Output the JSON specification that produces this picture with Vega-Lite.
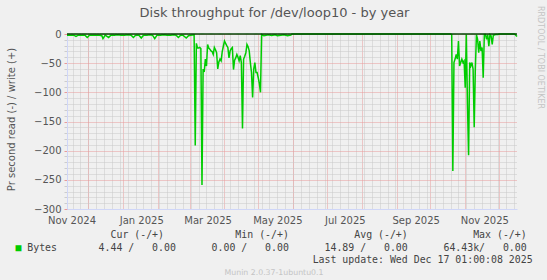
{
  "$schema": "https://vega.github.io/schema/vega-lite/v6.json",
  "background": "#F0F0F0",
  "padding": {"left": 5, "top": 5, "right": 5, "bottom": 5},
  "spacing": 5,
  "config": {"view": {"stroke": null}, "font": "DejaVu Sans"},
  "title": {"text": "Disk throughput for /dev/loop10 - by year", "fontSize": 13, "fontWeight": "normal", "color": "#555555", "anchor": "middle", "frame": "bounds", "offset": -15},
  "datasets": {
    "bytes": [
      {"date": "2024-11-12", "read": -2, "write": 0},
      {"date": "2024-11-15", "read": -2, "write": 0},
      {"date": "2024-11-18", "read": -2, "write": 0},
      {"date": "2024-11-20", "read": -4, "write": 0},
      {"date": "2024-11-22", "read": -2, "write": 0},
      {"date": "2024-11-25", "read": -2, "write": 0},
      {"date": "2024-11-28", "read": -2, "write": 0},
      {"date": "2024-11-30", "read": -6, "write": 0},
      {"date": "2024-12-02", "read": -2, "write": 0},
      {"date": "2024-12-05", "read": -2, "write": 0},
      {"date": "2024-12-08", "read": -2, "write": 0},
      {"date": "2024-12-11", "read": -2, "write": 0},
      {"date": "2024-12-13", "read": -3, "write": 0},
      {"date": "2024-12-14", "read": -8, "write": 0},
      {"date": "2024-12-16", "read": -2, "write": 0},
      {"date": "2024-12-19", "read": -6, "write": 0},
      {"date": "2024-12-21", "read": -2, "write": 0},
      {"date": "2024-12-24", "read": -2, "write": 0},
      {"date": "2024-12-27", "read": -1.5, "write": 0},
      {"date": "2024-12-30", "read": -2, "write": 0},
      {"date": "2025-01-02", "read": -2, "write": 0},
      {"date": "2025-01-05", "read": -1.5, "write": 0},
      {"date": "2025-01-08", "read": -2, "write": 0},
      {"date": "2025-01-10", "read": -6, "write": 0},
      {"date": "2025-01-12", "read": -2, "write": 0},
      {"date": "2025-01-15", "read": -2, "write": 0},
      {"date": "2025-01-17", "read": -7, "write": 0},
      {"date": "2025-01-19", "read": -2, "write": 0},
      {"date": "2025-01-22", "read": -2, "write": 0},
      {"date": "2025-01-25", "read": -1.5, "write": 0},
      {"date": "2025-01-27", "read": -2, "write": 0},
      {"date": "2025-01-29", "read": -8, "write": 0},
      {"date": "2025-01-31", "read": -2, "write": 0},
      {"date": "2025-02-03", "read": -2, "write": 0},
      {"date": "2025-02-06", "read": -1.5, "write": 0},
      {"date": "2025-02-09", "read": -2, "write": 0},
      {"date": "2025-02-12", "read": -2, "write": 0},
      {"date": "2025-02-15", "read": -1.5, "write": 0},
      {"date": "2025-02-17", "read": -2, "write": 0},
      {"date": "2025-02-19", "read": -6, "write": 0},
      {"date": "2025-02-21", "read": -2, "write": 0},
      {"date": "2025-02-23", "read": -2, "write": 0},
      {"date": "2025-02-26", "read": -7, "write": 0},
      {"date": "2025-02-28", "read": -3, "write": 0},
      {"date": "2025-03-02", "read": -2, "write": 0},
      {"date": "2025-03-05", "read": -1.5, "write": 0},
      {"date": "2025-03-06", "read": -191, "write": 0},
      {"date": "2025-03-07", "read": -16, "write": 0},
      {"date": "2025-03-08", "read": -24, "write": 0},
      {"date": "2025-03-09", "read": -24, "write": 0},
      {"date": "2025-03-10", "read": -23, "write": 0},
      {"date": "2025-03-11", "read": -25, "write": 0},
      {"date": "2025-03-12", "read": -259, "write": 0},
      {"date": "2025-03-13", "read": -60, "write": 0},
      {"date": "2025-03-14", "read": -65, "write": 0},
      {"date": "2025-03-15", "read": -43, "write": 0},
      {"date": "2025-03-16", "read": -55, "write": 0},
      {"date": "2025-03-17", "read": -18, "write": 0},
      {"date": "2025-03-18", "read": -24, "write": 0},
      {"date": "2025-03-19", "read": -26, "write": 0},
      {"date": "2025-03-20", "read": -29, "write": 0},
      {"date": "2025-03-21", "read": -30, "write": 0},
      {"date": "2025-03-22", "read": -35, "write": 0},
      {"date": "2025-03-23", "read": -23, "write": 0},
      {"date": "2025-03-24", "read": -27, "write": 0},
      {"date": "2025-03-25", "read": -32, "write": 0},
      {"date": "2025-03-26", "read": -60, "write": 0},
      {"date": "2025-03-27", "read": -48, "write": 0},
      {"date": "2025-03-28", "read": -43, "write": 0},
      {"date": "2025-03-29", "read": -46, "write": 0},
      {"date": "2025-03-30", "read": -30, "write": 0},
      {"date": "2025-03-31", "read": -21, "write": 0},
      {"date": "2025-04-01", "read": -12, "write": 0},
      {"date": "2025-04-02", "read": -16, "write": 0},
      {"date": "2025-04-03", "read": -20, "write": 0},
      {"date": "2025-04-04", "read": -23, "write": 0},
      {"date": "2025-04-05", "read": -41, "write": 0},
      {"date": "2025-04-06", "read": -29, "write": 0},
      {"date": "2025-04-07", "read": -25, "write": 0},
      {"date": "2025-04-08", "read": -23, "write": 0},
      {"date": "2025-04-09", "read": -61, "write": 0},
      {"date": "2025-04-10", "read": -45, "write": 0},
      {"date": "2025-04-11", "read": -41, "write": 0},
      {"date": "2025-04-12", "read": -35, "write": 0},
      {"date": "2025-04-13", "read": -40, "write": 0},
      {"date": "2025-04-14", "read": -46, "write": 0},
      {"date": "2025-04-15", "read": -37, "write": 0},
      {"date": "2025-04-16", "read": -49, "write": 0},
      {"date": "2025-04-17", "read": -162, "write": 0},
      {"date": "2025-04-18", "read": -43, "write": 0},
      {"date": "2025-04-19", "read": -38, "write": 0},
      {"date": "2025-04-20", "read": -32, "write": 0},
      {"date": "2025-04-21", "read": -18, "write": 0},
      {"date": "2025-04-22", "read": -22, "write": 0},
      {"date": "2025-04-23", "read": -29, "write": 0},
      {"date": "2025-04-24", "read": -49, "write": 0},
      {"date": "2025-04-25", "read": -66, "write": 0},
      {"date": "2025-04-26", "read": -109, "write": 0},
      {"date": "2025-04-27", "read": -60, "write": 0},
      {"date": "2025-04-28", "read": -49, "write": 0},
      {"date": "2025-04-29", "read": -66, "write": 0},
      {"date": "2025-04-30", "read": -66, "write": 0},
      {"date": "2025-05-01", "read": -75, "write": 0},
      {"date": "2025-05-02", "read": -85, "write": 0},
      {"date": "2025-05-03", "read": -100, "write": 0},
      {"date": "2025-05-04", "read": -1, "write": 0},
      {"date": "2025-05-06", "read": -3, "write": 0},
      {"date": "2025-05-08", "read": -2, "write": 0},
      {"date": "2025-05-10", "read": -1.5, "write": 0},
      {"date": "2025-05-13", "read": -2.5, "write": 0},
      {"date": "2025-05-16", "read": -1.5, "write": 0},
      {"date": "2025-05-18", "read": -3, "write": 0},
      {"date": "2025-05-21", "read": -2, "write": 0},
      {"date": "2025-05-24", "read": -1.5, "write": 0},
      {"date": "2025-05-27", "read": -3, "write": 0},
      {"date": "2025-05-30", "read": -2, "write": 0},
      {"date": "2025-05-31", "read": 0, "write": 0},
      {"date": "2025-06-15", "read": 0, "write": 0},
      {"date": "2025-07-15", "read": 0, "write": 0},
      {"date": "2025-08-15", "read": 0, "write": 0},
      {"date": "2025-09-15", "read": 0, "write": 0},
      {"date": "2025-10-19", "read": 0, "write": 0},
      {"date": "2025-10-20", "read": -1, "write": 0},
      {"date": "2025-10-21", "read": -235, "write": 0},
      {"date": "2025-10-22", "read": -49, "write": 0},
      {"date": "2025-10-23", "read": -43, "write": 0},
      {"date": "2025-10-24", "read": -35, "write": 0},
      {"date": "2025-10-25", "read": -43, "write": 0},
      {"date": "2025-10-26", "read": -12, "write": 0},
      {"date": "2025-10-27", "read": -55, "write": 0},
      {"date": "2025-10-28", "read": -49, "write": 0},
      {"date": "2025-10-29", "read": -43, "write": 0},
      {"date": "2025-10-30", "read": -49, "write": 0},
      {"date": "2025-10-31", "read": -46, "write": 0},
      {"date": "2025-11-01", "read": -92, "write": 0},
      {"date": "2025-11-02", "read": -1, "write": 0},
      {"date": "2025-11-03", "read": -120, "write": 0},
      {"date": "2025-11-04", "read": -208, "write": 0},
      {"date": "2025-11-05", "read": -49, "write": 0},
      {"date": "2025-11-06", "read": -55, "write": 0},
      {"date": "2025-11-07", "read": -49, "write": 0},
      {"date": "2025-11-08", "read": -60, "write": 0},
      {"date": "2025-11-09", "read": -160, "write": 0},
      {"date": "2025-11-10", "read": -60, "write": 0},
      {"date": "2025-11-11", "read": -1, "write": 0},
      {"date": "2025-11-12", "read": -9, "write": 0},
      {"date": "2025-11-13", "read": -32, "write": 0},
      {"date": "2025-11-14", "read": -12, "write": 0},
      {"date": "2025-11-15", "read": -29, "write": 0},
      {"date": "2025-11-16", "read": -23, "write": 0},
      {"date": "2025-11-17", "read": -75, "write": 0},
      {"date": "2025-11-18", "read": -1, "write": 0},
      {"date": "2025-11-19", "read": -1, "write": 0},
      {"date": "2025-11-20", "read": -9, "write": 0},
      {"date": "2025-11-21", "read": -1, "write": 0},
      {"date": "2025-11-22", "read": -21, "write": 0},
      {"date": "2025-11-23", "read": -1, "write": 0},
      {"date": "2025-11-24", "read": -3, "write": 0},
      {"date": "2025-11-25", "read": -18, "write": 0},
      {"date": "2025-11-26", "read": -2, "write": 0},
      {"date": "2025-11-28", "read": -1, "write": 0},
      {"date": "2025-11-30", "read": -1, "write": 0},
      {"date": "2025-12-01", "read": 0, "write": 0},
      {"date": "2025-12-15", "read": 0, "write": 0},
      {"date": "2025-12-16", "read": -2, "write": 0},
      {"date": "2025-12-17", "read": -4.44, "write": 0}
    ],
    "legend": [
      {"line": "head", "kind": "mono", "text": "\u200b\u00a0\u00a0\u00a0\u00a0\u00a0\u00a0\u00a0\u00a0\u00a0\u00a0\u00a0\u00a0\u00a0\u00a0\u00a0\u00a0Cur\u00a0(-/+)\u00a0\u00a0\u00a0\u00a0\u00a0\u00a0\u00a0\u00a0\u00a0\u00a0\u00a0\u00a0Min\u00a0(-/+)\u00a0\u00a0\u00a0\u00a0\u00a0\u00a0\u00a0\u00a0\u00a0\u00a0\u00a0Avg\u00a0(-/+)\u00a0\u00a0\u00a0\u00a0\u00a0\u00a0\u00a0\u00a0\u00a0\u00a0\u00a0Max\u00a0(-/+)\u00a0\u200b"},
      {"line": "bytes", "kind": "swatch", "text": "\u25a0\u00a0\u00a0\u00a0\u00a0\u00a0\u00a0\u00a0\u00a0\u00a0\u00a0\u00a0\u00a0\u00a0\u00a0\u00a0\u00a0\u00a0\u00a0\u00a0\u00a0\u00a0\u00a0\u00a0\u00a0\u00a0\u00a0\u00a0\u00a0\u00a0\u00a0\u00a0\u00a0\u00a0\u00a0\u00a0\u00a0\u00a0\u00a0\u00a0\u00a0\u00a0\u00a0\u00a0\u00a0\u00a0\u00a0\u00a0\u00a0\u00a0\u00a0\u00a0\u00a0\u00a0\u00a0\u00a0\u00a0\u00a0\u00a0\u00a0\u00a0\u00a0\u00a0\u00a0\u00a0\u00a0\u00a0\u00a0\u00a0\u00a0\u00a0\u00a0\u00a0\u00a0\u00a0\u00a0\u00a0\u00a0\u00a0\u00a0\u00a0\u00a0\u00a0\u00a0\u00a0\u00a0\u00a0\u200b"},
      {"line": "bytes", "kind": "mono", "text": "\u200b\u00a0\u00a0Bytes\u00a0\u00a0\u00a0\u00a0\u00a0\u00a0\u00a04.44\u00a0/\u00a0\u00a0\u00a00.00\u00a0\u00a0\u00a0\u00a0\u00a0\u00a00.00\u00a0/\u00a0\u00a0\u00a00.00\u00a0\u00a0\u00a0\u00a0\u00a0\u00a014.89\u00a0/\u00a0\u00a0\u00a00.00\u00a0\u00a0\u00a0\u00a0\u00a0\u00a064.43k/\u00a0\u00a0\u00a00.00\u00a0\u200b"},
      {"line": "update", "kind": "mono", "text": "\u200b\u00a0\u00a0\u00a0\u00a0\u00a0\u00a0\u00a0\u00a0\u00a0\u00a0\u00a0\u00a0\u00a0\u00a0\u00a0\u00a0\u00a0\u00a0\u00a0\u00a0\u00a0\u00a0\u00a0\u00a0\u00a0\u00a0\u00a0\u00a0\u00a0\u00a0\u00a0\u00a0\u00a0\u00a0\u00a0\u00a0\u00a0\u00a0\u00a0\u00a0\u00a0\u00a0\u00a0\u00a0\u00a0\u00a0\u00a0\u00a0\u00a0\u00a0Last update: Wed Dec 17 01:00:08 2025"},
      {"line": "credit", "kind": "credit", "text": "Munin 2.0.37-1ubuntu0.1"}
    ]
  },
  "vconcat": [
    {
      "width": 450,
      "height": 175,
      "data": {"name": "bytes"},
      "layer": [
        {
          "mark": {"type": "line", "color": "#00CC00", "strokeWidth": 1},
          "encoding": {
            "x": {"field": "date", "type": "temporal",
              "scale": {"type": "utc", "domain": [{"year": 2024, "month": 11, "date": 12, "utc": true}, {"year": 2025, "month": 12, "date": 17, "hours": 1, "utc": true}]},
              "axis": {"orient": "bottom", "tickCount": {"interval": "week", "step": 1}, "grid": true, "gridColor": "#c8c8c8", "gridDash": [1, 1], "labels": false, "ticks": false, "domain": false, "title": null}},
            "y": {"field": "write", "type": "quantitative",
              "scale": {"domain": [-300, 0], "nice": false, "zero": false},
              "axis": {"orient": "left", "values": [-290, -280, -270, -260, -240, -230, -220, -210, -190, -180, -170, -160, -140, -130, -120, -110, -90, -80, -70, -60, -40, -30, -20, -10], "grid": true, "gridColor": "#c8c8c8", "gridDash": [1, 1], "labels": false, "ticks": true, "tickColor": "#cccccc", "tickSize": 3, "domain": false, "title": null}}
          }
        },
        {
          "mark": {"type": "line", "color": "#00CC00", "strokeWidth": 1.5},
          "encoding": {
            "x": {"field": "date", "type": "temporal",
              "scale": {"type": "utc", "domain": [{"year": 2024, "month": 11, "date": 12, "utc": true}, {"year": 2025, "month": 12, "date": 17, "hours": 1, "utc": true}]},
              "axis": {"orient": "bottom", "values": [
                {"year": 2024, "month": 11, "date": 16, "utc": true},
                {"year": 2025, "month": 1, "date": 17, "utc": true},
                {"year": 2025, "month": 3, "date": 17, "utc": true},
                {"year": 2025, "month": 5, "date": 18, "utc": true},
                {"year": 2025, "month": 7, "date": 17, "utc": true},
                {"year": 2025, "month": 9, "date": 18, "utc": true},
                {"year": 2025, "month": 11, "date": 18, "utc": true}],
                "format": "%b %Y", "grid": false, "ticks": false, "domain": true, "domainColor": "#CFD6F8", "labelFontSize": 10, "labelColor": "#555555", "labelPadding": 6, "labelFlush": false, "labelOverlap": false, "title": null}},
            "y": {"field": "read", "type": "quantitative",
              "scale": {"domain": [-300, 0], "nice": false, "zero": false},
              "axis": {"orient": "left", "values": [-300, -250, -200, -150, -100, -50, 0], "grid": true, "gridColor": "#e89a9a", "gridDash": [1, 1], "ticks": true, "tickColor": "#e89a9a", "tickSize": 3, "domain": true, "domainColor": "#CFD6F8", "labelFontSize": 10, "labelColor": "#555555", "labelPadding": 3, "labelFlush": false,
                "title": "Pr second read (-) / write (+)", "titleFontSize": 10, "titleFontWeight": "normal", "titleColor": "#555555", "titleAngle": -90, "titleX": -56, "titleY": 85, "titleAlign": "center", "titleBaseline": "middle"}}
          }
        },
        {
          "mark": {"type": "rule", "color": "#000000", "strokeWidth": 1},
          "encoding": {
            "x": {"field": "date", "type": "temporal", "aggregate": "min",
              "scale": {"type": "utc", "domain": [{"year": 2024, "month": 11, "date": 12, "utc": true}, {"year": 2025, "month": 12, "date": 17, "hours": 1, "utc": true}]},
              "axis": {"orient": "bottom", "tickCount": {"interval": "month", "step": 1}, "grid": true, "gridColor": "#e89a9a", "gridDash": [1, 1], "labels": false, "ticks": false, "domain": false, "title": null}},
            "x2": {"field": "date", "aggregate": "max"},
            "y": {"datum": 0, "type": "quantitative",
              "scale": {"domain": [-300, 0], "nice": false, "zero": false},
              "axis": {"orient": "right", "grid": false, "labels": false, "ticks": false, "domain": false,
                "title": "RRDTOOL / TOBI OETIKER", "titleFontSize": 8, "titleFontWeight": "normal", "titleColor": "#c4c4c4", "titleAngle": 90, "titleX": 22, "titleY": 23, "titleAlign": "center", "titleBaseline": "middle"}}
          }
        }
      ],
      "resolve": {"axis": {"x": "independent", "y": "independent"}}
    },
    {
      "width": 414,
      "height": 38,
      "data": {"name": "legend"},
      "encoding": {
        "y": {"field": "line", "type": "ordinal", "scale": {"type": "point", "padding": 0, "domain": ["head", "bytes", "update", "credit"]}, "axis": null},
        "text": {"field": "text"}
      },
      "layer": [
        {
          "transform": [{"filter": "datum.kind === 'mono'"}],
          "mark": {"type": "text", "font": "DejaVu Sans Mono", "fontSize": 9.9, "color": "#444444", "align": "center", "baseline": "middle"}
        },
        {
          "transform": [{"filter": "datum.kind === 'swatch'"}],
          "mark": {"type": "text", "font": "DejaVu Sans Mono", "fontSize": 9.9, "color": "#00CC00", "align": "center", "baseline": "middle"}
        },
        {
          "transform": [{"filter": "datum.kind === 'credit'"}],
          "mark": {"type": "text", "font": "DejaVu Sans", "fontSize": 7.8, "color": "#c4c4c4", "align": "center", "baseline": "middle"}
        }
      ]
    }
  ]
}
